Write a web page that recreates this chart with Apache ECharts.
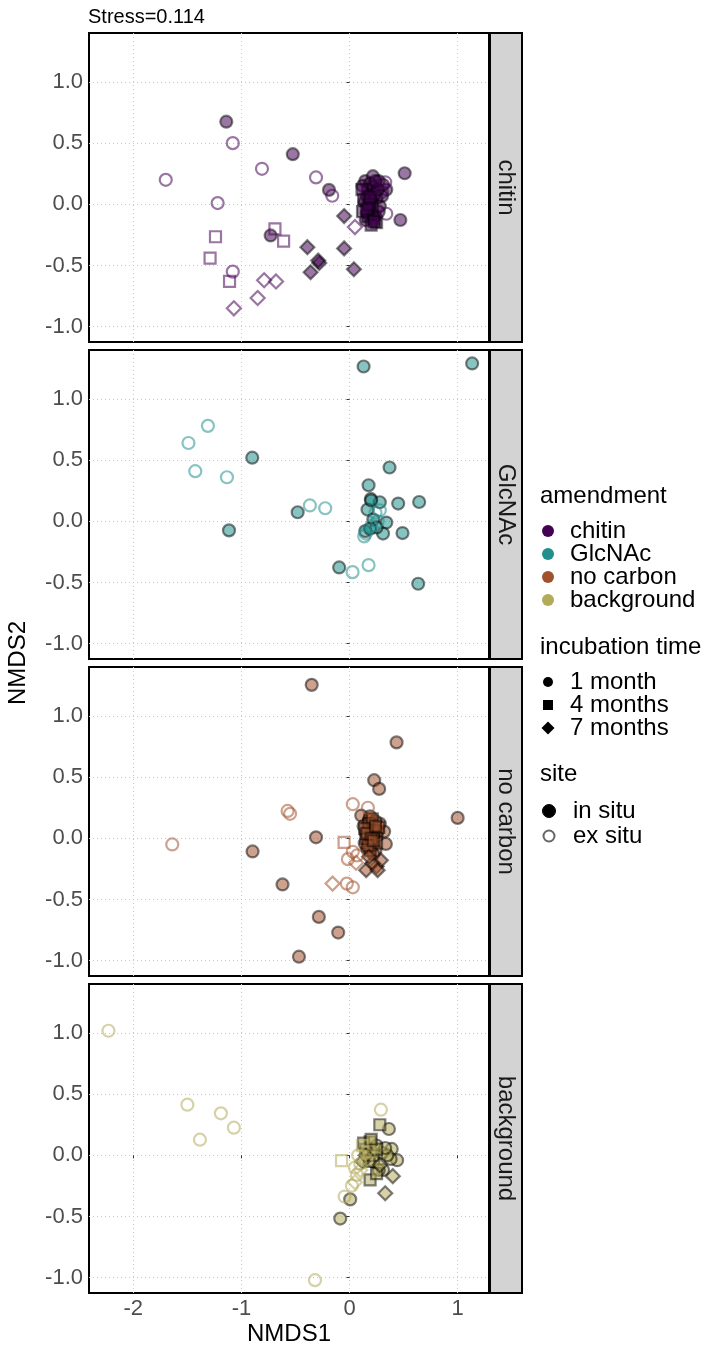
<!DOCTYPE html>
<html><head><meta charset="utf-8">
<script src="https://cdn.jsdelivr.net/npm/echarts@6/dist/echarts.min.js"></script>
<style>html,body{margin:0;padding:0;background:#fff}#c{width:710px;height:1350px}</style>
</head><body><div id="c"></div>
<script>
// ---------- data ----------
const amendments = ['chitin', 'GlcNAc', 'no carbon', 'background'];
const amendmentColors = ['#440154', '#21908C', '#A0522D', '#B3AA5A'];
const times = ['1 month', '4 months', '7 months'];
const sites = ['in situ', 'ex situ'];
const xTicks = [-2, -1, 0, 1];
const yTicks = [-1, -0.5, 0, 0.5, 1];
const stressLabel = 'Stress=0.114';

// chitin
const chitin_in_1m = [[-1.14,0.675],[-0.525,0.41],[-0.19,0.118],[-0.73,-0.254],[0.51,0.254],[0.47,-0.128],
  [0.145,0.19],[0.216,0.23],[0.27,0.19],[0.34,0.12],[0.30,0.067],[0.16,0.067],[0.19,-0.04],[0.24,-0.096],
  [0.16,-0.07],[0.28,-0.015],[0.22,0.14],[0.25,0.05],[0.20,0.10],[0.31,0.16],[0.12,0.15],
  [0.17,0.12],[0.19,0.17],[0.23,0.08],[0.26,0.12],[0.14,0.02],[0.18,-0.02],[0.21,-0.08],[0.15,-0.13],
  [0.20,0.03],[0.27,-0.06],[0.24,0.19]];
const chitin_in_4m = [[0.115,0.12],[0.13,0.04],[0.25,-0.15],[0.21,-0.015],[0.17,-0.10],[0.22,-0.12],[0.12,-0.06],[0.18,0.0],
  [0.20,-0.17],[0.16,-0.04],[0.23,-0.14],[0.19,0.06]];
const chitin_in_7m = [[-0.05,-0.096],[-0.39,-0.35],[-0.05,-0.36],[-0.36,-0.555],[-0.28,-0.48],[-0.29,-0.46],[0.04,-0.53]];
const chitin_ex_1m = [[-1.70,0.20],[-1.08,0.50],[-0.81,0.29],[-1.22,0.01],[-0.31,0.22],[-0.16,0.07],[-1.08,-0.55],[0.33,0.18],[0.34,-0.077],[0.30,0.10]];
const chitin_ex_4m = [[-1.24,-0.265],[-1.29,-0.44],[-1.11,-0.63],[-0.69,-0.20],[-0.61,-0.30]];
const chitin_ex_7m = [[-1.07,-0.85],[-0.85,-0.765],[-0.79,-0.62],[-0.68,-0.63],[0.05,-0.186]];

// GlcNAc
const glcnac_in_1m = [[0.13,1.265],[1.134,1.29],[-0.90,0.52],[-1.115,-0.074],[-0.48,0.074],[0.37,0.44],[0.176,0.295],
  [0.197,0.183],[0.28,0.156],[0.45,0.145],[0.644,0.158],[0.34,-0.01],[0.49,-0.096],[0.31,-0.10],[0.145,-0.08],
  [-0.096,-0.377],[0.635,-0.51],[0.166,0.096],[0.22,0.014],[0.20,0.17],[0.25,-0.05],[0.19,-0.06]];
const glcnac_in_4m = [];
const glcnac_in_7m = [];
const glcnac_ex_1m = [[-1.31,0.78],[-1.49,0.64],[-1.427,0.41],[-1.134,0.36],[-0.367,0.13],[-0.225,0.107],[0.028,-0.415],
  [0.176,-0.358],[0.136,-0.123],[0.28,0.09],[0.24,0.07],[0.26,0.0],[0.20,-0.04],[0.15,-0.10]];
const glcnac_ex_4m = [];
const glcnac_ex_7m = [];

// no carbon
const nocarbon_in_1m = [[-0.35,1.254],[0.435,0.784],[0.228,0.475],[0.274,0.404],[1.0,0.167],[-0.31,0.008],[-0.897,-0.107],
  [-0.62,-0.377],[-0.284,-0.642],[-0.105,-0.77],[-0.468,-0.967],[0.108,0.186],[0.32,0.055],[0.336,-0.046],[0.18,0.15],
  [0.22,0.10],[0.15,0.05],[0.25,0.02],[0.20,-0.03],[0.28,0.12],[0.16,-0.08],[0.24,-0.10],
  [0.17,0.12],[0.20,0.08],[0.23,0.04],[0.18,-0.02],[0.21,-0.06],[0.26,0.06],[0.13,0.10],[0.19,0.18],
  [0.24,0.14],[0.14,-0.04],[0.22,-0.13]];
const nocarbon_in_4m = [[0.18,0.12],[0.22,0.06],[0.15,0.0],[0.25,-0.04],[0.19,-0.10],[0.21,0.16],[0.14,0.08],[0.27,0.09],
  [0.16,0.04],[0.20,0.0],[0.24,0.10],[0.17,-0.06],[0.22,-0.02]];
const nocarbon_in_7m = [[0.154,-0.26],[0.25,-0.23],[0.29,-0.18],[0.21,-0.205],[0.18,-0.15],[0.26,-0.26]];
const nocarbon_ex_1m = [[-1.64,-0.05],[-0.573,0.224],[-0.55,0.20],[0.03,0.279],[0.17,0.25],[0.03,-0.11],[-0.015,-0.17],
  [-0.025,-0.37],[0.03,-0.40],[0.07,-0.14]];
const nocarbon_ex_4m = [[-0.05,-0.033]];
const nocarbon_ex_7m = [[-0.157,-0.37],[0.06,-0.20]];

// background
const background_in_1m = [[-0.086,-0.517],[0.006,-0.36],[0.364,0.215],[0.39,0.052],[0.44,-0.04],[0.31,-0.12],[0.38,-0.03],
  [0.30,0.02],[0.25,0.08],[0.22,-0.05],[0.35,0.0],[0.33,0.06],[0.27,-0.12]];
const background_in_4m = [[0.28,0.25],[0.19,0.11],[0.19,-0.2],[0.25,-0.15],[0.15,0.05],[0.22,0.0],
  [0.13,0.10],[0.18,-0.05],[0.25,0.05],[0.20,0.13]];
const background_in_7m = [[0.40,-0.17],[0.33,-0.31],[0.12,-0.05],[0.28,-0.08],[0.15,0.0]];
const background_ex_1m = [[-2.23,1.018],[-1.50,0.414],[-1.19,0.343],[-1.07,0.226],[-1.384,0.128],[-0.32,-1.02],[0.29,0.373],
  [-0.046,-0.337],[0.022,-0.248],[0.068,-0.16],[0.15,0.02],[0.10,-0.07],[0.08,0.0],[0.05,-0.10]];
const background_ex_4m = [[-0.074,-0.044],[0.12,0.08],[0.18,0.03]];
const background_ex_7m = [[0.05,-0.22],[0.10,-0.12]];

const panelData = [
  { in: [chitin_in_1m, chitin_in_4m, chitin_in_7m], ex: [chitin_ex_1m, chitin_ex_4m, chitin_ex_7m] },
  { in: [glcnac_in_1m, glcnac_in_4m, glcnac_in_7m], ex: [glcnac_ex_1m, glcnac_ex_4m, glcnac_ex_7m] },
  { in: [nocarbon_in_1m, nocarbon_in_4m, nocarbon_in_7m], ex: [nocarbon_ex_1m, nocarbon_ex_4m, nocarbon_ex_7m] },
  { in: [background_in_1m, background_in_4m, background_in_7m], ex: [background_ex_1m, background_ex_4m, background_ex_7m] }
];

// ---------- layout / style ----------
const FONT = '"Liberation Sans", Arial, sans-serif';
const GL = 89, GW = 400, GT0 = 33, GH = 309, GSTEP = 317;
const XMIN = -2.41, XMAX = 1.29, YMIN = -1.125, YMAX = 1.40;
const symbols = ['circle', 'rect', 'diamond'];
const symSizes = [12, 11, 14];

function rgba(hex, a) {
  const n = parseInt(hex.slice(1), 16);
  return 'rgba(' + ((n >> 16) & 255) + ',' + ((n >> 8) & 255) + ',' + (n & 255) + ',' + a + ')';
}

const grids = [], xAxes = [], yAxes = [], series = [], graphics = [];
for (let p = 0; p < 4; p++) {
  const top = GT0 + GSTEP * p;
  grids.push({ left: GL, top: top, width: GW, height: GH, show: true, borderColor: '#000', borderWidth: 2,
    backgroundColor: '#fff', containLabel: false, outerBoundsMode: 'none' });
  const isBottom = p === 3;
  xAxes.push({ type: 'value', gridIndex: p, min: XMIN, max: XMAX,
    axisLine: { show: false },
    axisTick: { show: isBottom, length: 3, lineStyle: { color: '#333' }, customValues: xTicks },
    axisLabel: { show: isBottom, customValues: xTicks, fontSize: 22, color: '#4d4d4d', fontFamily: FONT, margin: 5 },
    splitLine: { show: true, lineStyle: { color: '#c8c8c8', type: [1, 3], width: 1 } },
    name: isBottom ? 'NMDS1' : '', nameLocation: 'middle', nameGap: 29,
    nameTextStyle: { fontSize: 24, color: '#000', fontFamily: FONT, verticalAlign: 'top' }
  });
  yAxes.push({ type: 'value', gridIndex: p, min: YMIN, max: YMAX,
    axisLine: { show: false },
    axisTick: { show: true, length: 3, lineStyle: { color: '#333' }, customValues: yTicks },
    axisLabel: { customValues: yTicks, fontSize: 22, color: '#4d4d4d', fontFamily: FONT, margin: 6,
      formatter: v => v.toFixed(1) },
    splitLine: { show: true, lineStyle: { color: '#c8c8c8', type: [1, 3], width: 1 } }
  });
  const col = amendmentColors[p];
  for (let t = 0; t < 3; t++) {
    series.push({ type: 'scatter', xAxisIndex: p, yAxisIndex: p, name: amendments[p] + ' in situ ' + times[t],
      data: panelData[p].in[t], symbol: symbols[t], symbolSize: symSizes[t],
      itemStyle: { color: rgba(col, 0.68), borderColor: 'rgba(0,0,0,0.62)', borderWidth: 2.2 },
      emphasis: { disabled: true }, silent: true });
  }
  for (let t = 0; t < 3; t++) {
    series.push({ type: 'scatter', xAxisIndex: p, yAxisIndex: p, name: amendments[p] + ' ex situ ' + times[t],
      data: panelData[p].ex[t], symbol: symbols[t], symbolSize: symSizes[t],
      itemStyle: { color: 'rgba(255,255,255,0)', borderColor: rgba(col, 0.68), borderWidth: 2.2 },
      emphasis: { disabled: true }, silent: true });
  }
  // strip
  graphics.push({ type: 'rect', shape: { x: GL + GW + 1, y: top, width: 32, height: GH },
    style: { fill: '#d3d3d3', stroke: '#000', lineWidth: 2 }, silent: true });
  graphics.push({ type: 'text', x: GL + GW + 17, y: top + GH / 2, rotation: -Math.PI / 2,
    style: { text: amendments[p], align: 'center', verticalAlign: 'middle', fontSize: 24, fill: '#1a1a1a', fontFamily: FONT },
    silent: true });
}

// titles
graphics.push({ type: 'text', x: 88, y: 17, style: { text: stressLabel, verticalAlign: 'middle', fontSize: 20, fill: '#000', fontFamily: FONT } });
graphics.push({ type: 'text', x: 18, y: GT0 + (GSTEP * 3 + GH) / 2, rotation: Math.PI / 2,
  style: { text: 'NMDS2', align: 'center', verticalAlign: 'middle', fontSize: 24, fill: '#000', fontFamily: FONT } });

// legend
const LX = 540, LDOT = 548, LTXT = 570, LFS = 24;
function ltitle(text, y) {
  graphics.push({ type: 'text', x: LX, y: y, style: { text: text, verticalAlign: 'middle', fontSize: LFS, fill: '#000', fontFamily: FONT } });
}
function ltext(text, y, dx) {
  graphics.push({ type: 'text', x: LTXT + (dx || 0), y: y, style: { text: text, verticalAlign: 'middle', fontSize: LFS, fill: '#000', fontFamily: FONT } });
}
ltitle('amendment', 496);
const amY = [531, 554, 577, 600];
amendments.forEach((a, i) => {
  graphics.push({ type: 'circle', shape: { cx: LDOT, cy: amY[i], r: 6 }, style: { fill: amendmentColors[i] } });
  ltext(a, amY[i]);
});
ltitle('incubation time', 647);
const tY = [682, 705, 728];
graphics.push({ type: 'circle', shape: { cx: LDOT, cy: tY[0], r: 5 }, style: { fill: '#000' } });
graphics.push({ type: 'rect', shape: { x: LDOT - 5, y: tY[1] - 5, width: 10, height: 10 }, style: { fill: '#000' } });
graphics.push({ type: 'polygon', shape: { points: [[LDOT, tY[2] - 6.5], [LDOT + 6.5, tY[2]], [LDOT, tY[2] + 6.5], [LDOT - 6.5, tY[2]]] }, style: { fill: '#000' } });
times.forEach((t, i) => ltext(t, tY[i]));
ltitle('site', 774);
const sY = [811, 836];
graphics.push({ type: 'circle', shape: { cx: LDOT + 1, cy: sY[0], r: 6.5 }, style: { fill: '#000', stroke: '#000', lineWidth: 1 } });
graphics.push({ type: 'circle', shape: { cx: LDOT + 1, cy: sY[1], r: 5.5 }, style: { fill: '#fff', stroke: '#666', lineWidth: 2 } });
ltext(sites[0], sY[0], 3);
ltext(sites[1], sY[1], 3);

const chart = echarts.init(document.getElementById('c'), null, { renderer: 'canvas' });
chart.setOption({
  animation: false,
  backgroundColor: '#fff',
  grid: grids, xAxis: xAxes, yAxis: yAxes, series: series,
  graphic: { elements: graphics }
});
</script></body></html>
